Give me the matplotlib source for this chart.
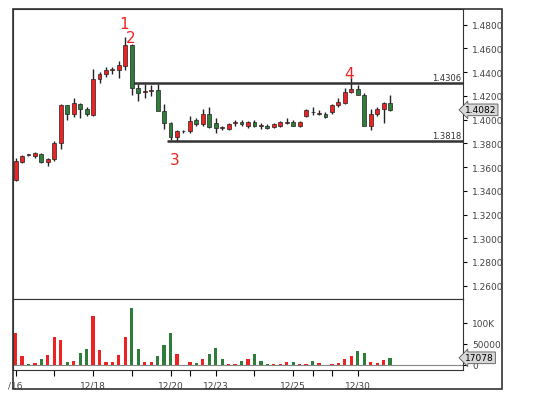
import matplotlib.pyplot as plt
from matplotlib.patches import Rectangle
import numpy as np

# OHLC candles (red = up, green = down)
opens = [1.349, 1.364, 1.370, 1.369, 1.371, 1.364, 1.367, 1.380, 1.412, 1.405,
         1.413, 1.409, 1.404, 1.434, 1.438, 1.442, 1.442, 1.445, 1.463, 1.427,
         1.423, 1.424, 1.425, 1.407, 1.397, 1.385, 1.390, 1.390, 1.400, 1.396,
         1.405, 1.397, 1.393, 1.392, 1.397, 1.398, 1.395, 1.398, 1.395, 1.395,
         1.394, 1.395, 1.397, 1.398, 1.395, 1.403, 1.406, 1.405, 1.405, 1.406,
         1.412, 1.414, 1.423, 1.426, 1.421, 1.395, 1.405, 1.409, 1.414]
closes = [1.365, 1.369, 1.370, 1.372, 1.364, 1.367, 1.380, 1.412, 1.405, 1.414,
          1.409, 1.405, 1.434, 1.438, 1.442, 1.442, 1.446, 1.463, 1.427, 1.422,
          1.423, 1.424, 1.407, 1.397, 1.385, 1.390, 1.390, 1.399, 1.396, 1.405,
          1.394, 1.393, 1.393, 1.396, 1.397, 1.396, 1.398, 1.395, 1.395, 1.393,
          1.396, 1.398, 1.398, 1.395, 1.398, 1.408, 1.406, 1.405, 1.402, 1.412,
          1.415, 1.423, 1.426, 1.421, 1.395, 1.405, 1.409, 1.414, 1.408]
highs = [1.368, 1.370, 1.371, 1.373, 1.372, 1.368, 1.382, 1.413, 1.412, 1.418,
         1.414, 1.411, 1.443, 1.440, 1.444, 1.444, 1.449, 1.470, 1.464, 1.430,
         1.430, 1.429, 1.430, 1.413, 1.398, 1.391, 1.391, 1.403, 1.401, 1.409,
         1.411, 1.401, 1.395, 1.397, 1.400, 1.400, 1.399, 1.400, 1.397, 1.396,
         1.397, 1.399, 1.401, 1.400, 1.399, 1.409, 1.411, 1.408, 1.406, 1.413,
         1.418, 1.427, 1.435, 1.429, 1.422, 1.409, 1.411, 1.415, 1.421]
lows = [1.348, 1.363, 1.369, 1.368, 1.363, 1.361, 1.365, 1.375, 1.400, 1.402,
        1.401, 1.403, 1.403, 1.431, 1.436, 1.438, 1.435, 1.442, 1.421, 1.416,
        1.418, 1.420, 1.424, 1.392, 1.383, 1.382, 1.389, 1.389, 1.395, 1.395,
        1.393, 1.389, 1.391, 1.391, 1.395, 1.395, 1.393, 1.394, 1.392, 1.392,
        1.393, 1.394, 1.396, 1.395, 1.394, 1.402, 1.404, 1.404, 1.401, 1.405,
        1.411, 1.413, 1.422, 1.425, 1.419, 1.391, 1.403, 1.397, 1.407]
volumes = [76, 22, 3, 4, 15, 24, 66, 60, 8, 9, 29, 38, 117, 36, 6, 6, 23, 67,
           136, 37, 6, 7, 21, 48, 76, 25, 0, 6, 4, 14, 27, 41, 13, 2, 2, 9, 14,
           26, 9, 2, 2, 2, 7, 7, 2, 2, 9, 4, 0, 2, 5, 13, 21, 33, 28, 6, 4, 12, 17]
vol_up = [1, 1, 0, 1, 0, 1, 1, 1, 0, 1, 0, 0, 1, 1, 1, 1, 1, 1, 0, 0, 1, 1, 0,
          0, 0, 1, 0, 1, 0, 1, 0, 0, 0, 1, 1, 0, 1, 0, 0, 0, 1, 1, 1, 0, 1, 1,
          0, 1, 0, 1, 1, 1, 1, 0, 0, 1, 1, 1, 0]
tick_pos = [0, 12, 24, 31, 43, 53]
tick_labels = ["/16", "12/18", "12/20", "12/23", "12/25", "12/30"]
minor_pos = [6, 18, 27, 37, 46, 49]
resistance, support = 1.4306, 1.3818
last_price, last_vol = "1.4082", "17078"
marks = [("1", 16.75, 1.481), ("2", 17.9, 1.469), ("3", 24.7, 1.366), ("4", 51.6, 1.439)]

RED, GREEN = "#ee2222", "#2e7d3a"
W, H = 534, 402
fig = plt.figure(figsize=(W / 100, H / 100), dpi=100)

def box(l, t, r, b):
    return [l / W, 1 - b / H, (r - l) / W, (b - t) / H]

ax = fig.add_axes(box(13, 10, 463, 300))
axv = fig.add_axes(box(13, 300, 463, 371))
fig.add_artist(Rectangle((13 / W, 1 - 390 / H), (502 - 13) / W, 380 / H,
                         transform=fig.transFigure, fill=False, lw=1.2, ec="#333333"))

x = np.arange(len(opens))
for i in x:
    up = closes[i] >= opens[i]
    c = RED if up else GREEN
    ax.vlines(i, lows[i], highs[i], color="#222222", lw=1, zorder=2)
    lo, hi = min(opens[i], closes[i]), max(opens[i], closes[i])
    ax.add_patch(Rectangle((i - 0.3, lo), 0.6, max(hi - lo, 0.0008), fc=c,
                           ec="#222222", lw=0.5, zorder=3))

ax.hlines(resistance, 18, 69.3, color="#333333", lw=1.8)
ax.hlines(support, 23.5, 69.3, color="#333333", lw=1.8)
ax.text(69, resistance + 0.001, f"{resistance:.4f}", ha="right", va="bottom",
        fontsize=6, color="#333333")
ax.text(69, support + 0.001, f"{support:.4f}", ha="right", va="bottom",
        fontsize=6, color="#333333")
for t, xi, yi in marks:
    ax.text(xi, yi, t, color=RED, fontsize=11, ha="center", va="center")

ax.set_xlim(-0.4, 69.3)
ax.set_ylim(1.2488, 1.4932)
ax.set_yticks(np.arange(1.26, 1.481, 0.02))
ax.set_yticklabels([f"{v:.4f}" for v in np.arange(1.26, 1.481, 0.02)])
ax.yaxis.tick_right()
ax.set_xticks([])
ax.tick_params(axis="y", labelsize=6.5, labelcolor="#444444", length=3)
ax.text(1.005, float(last_price), last_price, transform=ax.get_yaxis_transform(),
        fontsize=6.5, va="center", ha="left",
        bbox=dict(boxstyle="larrow,pad=0.15", fc="#d8d8d8", ec="#555555", lw=0.6))

axv.bar(x, volumes, width=0.5, color=[RED if u else GREEN for u in vol_up])
axv.axhline(0, color="#888888", lw=0.8)
axv.set_xlim(-0.4, 69.3)
axv.set_ylim(-12, 157)
axv.yaxis.tick_right()
axv.set_yticks([0, 50, 100])
axv.set_yticklabels(["0", "50000", "100K"])
axv.tick_params(axis="y", labelsize=6.5, labelcolor="#444444", length=3)
axv.set_xticks(tick_pos + minor_pos)
axv.set_xticklabels(tick_labels + [""] * len(minor_pos))
axv.tick_params(axis="x", labelsize=6.5, labelcolor="#444444", length=4)
axv.text(1.005, 17, last_vol, transform=axv.get_yaxis_transform(),
         fontsize=6.5, va="center", ha="left",
         bbox=dict(boxstyle="larrow,pad=0.15", fc="#d8d8d8", ec="#555555", lw=0.6))

for a in (ax, axv):
    for s in a.spines.values():
        s.set_color("#333333")

fig.savefig("out.png", dpi=100)
